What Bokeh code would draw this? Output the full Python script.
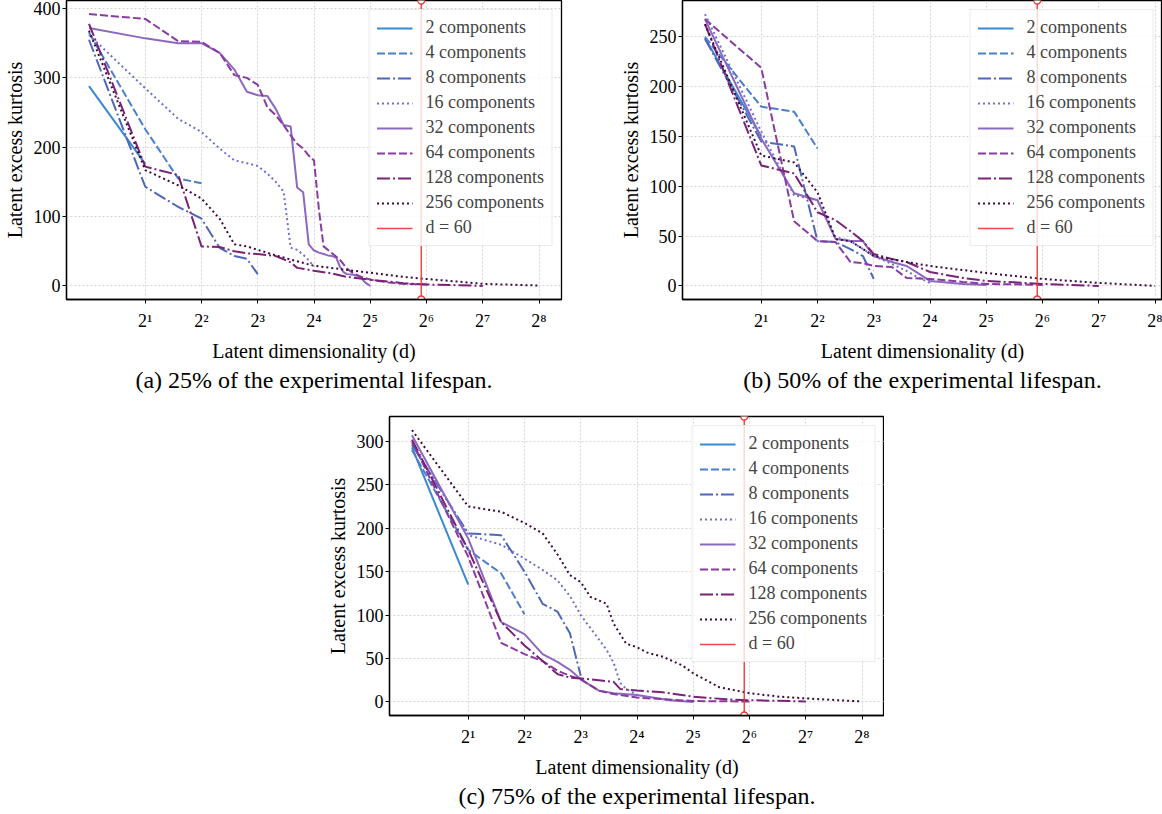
from bokeh.plotting import figure
from bokeh.models import Range1d, FixedTicker, Legend, LegendItem, Title, Spacer
from bokeh.layouts import row, column
from bokeh.embed import file_html
from bokeh.resources import INLINE

# ---------------- data ----------------
components = [2, 4, 8, 16, 32, 64, 128, 256]
series_labels = [f"{n} components" for n in components]
x_ticks = [2, 4, 8, 16, 32, 64, 128, 256]
x_tick_labels = ["2¹", "2²", "2³", "2⁴", "2⁵", "2⁶", "2⁷", "2⁸"]
d_marker = 60

# (a) 25% of lifespan
a2_d = [1, 2]
a2_k = [288, 176]
a4_d = [1, 2, 3, 4]
a4_k = [365, 226, 155, 148]
a8_d = [1, 2, 3, 4, 5, 6, 7, 8]
a8_k = [355, 143, 114, 97, 55, 43, 39, 17]
a16_d = [1, 2, 3, 4, 5, 6, 7, 8, 9, 10, 11, 12, 13, 14, 15, 16]
a16_k = [362, 285, 241, 222, 198, 181, 177, 173, 162, 150, 136, 55, 52, 45, 37, 28]
a32_d = [1, 2, 3, 4, 5, 6, 7, 8, 9, 10, 11, 12, 13, 14, 15, 16, 17, 18, 19, 20, 21, 22, 23, 24, 26, 28, 30, 32]
a32_k = [372, 357, 350, 350, 336, 312, 280, 275, 274, 255, 232, 230, 142, 135, 60, 51, 48, 46, 44, 43, 41, 28, 20, 17, 16, 14, 5, 0]
a64_d = [1, 2, 3, 4, 5, 6, 7, 8, 9, 10, 11, 12, 13, 14, 15, 16, 17, 18, 20, 22, 24, 26, 28, 32, 40, 48, 64]
a64_k = [392, 385, 353, 352, 336, 304, 300, 290, 258, 246, 232, 217, 205, 198, 188, 181, 110, 57, 47, 38, 25, 18, 14, 9, 5, 3, 2]
a128_d = [1, 2, 3, 4, 5, 6, 7, 8, 10, 12, 13, 16, 20, 24, 32, 48, 64, 96, 128]
a128_k = [378, 172, 160, 57, 56, 50, 47, 46, 43, 34, 26, 22, 18, 13, 9, 4, 2, 1, 0]
a256_d = [1, 2, 3, 4, 5, 6, 7, 8, 10, 12, 16, 24, 32, 48, 64, 96, 128, 192, 256]
a256_k = [368, 167, 145, 126, 97, 60, 57, 52, 44, 38, 29, 23, 19, 13, 10, 6, 3, 1.5, 0.5]

# (b) 50% of lifespan
b2_d = [1, 2]
b2_k = [249, 150]
b4_d = [1, 2, 3, 4]
b4_k = [250, 180, 175, 138]
b8_d = [1, 2, 3, 4, 5, 6, 7, 8]
b8_k = [248, 145, 140, 45, 44, 37, 30, 7]
b16_d = [1, 2, 3, 4, 5, 6, 7, 8, 10, 12, 14, 16]
b16_k = [273, 155, 91, 86, 49, 45, 37, 30, 22, 15, 8, 3]
b32_d = [1, 2, 3, 4, 5, 6, 7, 8, 10, 12, 14, 16, 24, 32]
b32_k = [268, 148, 93, 86, 47, 45, 45, 30, 24, 20, 12, 5, 2, 1]
b64_d = [1, 2, 3, 4, 5, 6, 7, 8, 10, 12, 16, 24, 32, 48, 64]
b64_k = [268, 219, 65, 45, 44, 24, 23, 20, 19, 8, 7, 4, 2, 1.5, 1]
b128_d = [1, 2, 3, 4, 5, 6, 7, 8, 10, 12, 16, 24, 32, 64, 128]
b128_k = [263, 121, 113, 74, 66, 55, 45, 32, 27, 24, 14, 8, 5, 2, 0]
b256_d = [1, 2, 3, 4, 5, 6, 7, 8, 12, 16, 32, 64, 128, 256]
b256_k = [263, 131, 124, 94, 47, 45, 37, 30, 24, 20, 13, 7, 3, 0]

# (c) 75% of lifespan
c2_d = [1, 2]
c2_k = [293, 135]
c4_d = [1, 2, 3, 4]
c4_k = [290, 175, 148, 101]
c8_d = [1, 2, 3, 4, 5, 6, 7, 8]
c8_k = [296, 194, 192, 150, 113, 104, 79, 30]
c16_d = [1, 2, 3, 4, 5, 6, 7, 8, 10, 11, 12, 13, 14, 16]
c16_k = [298, 192, 181, 165, 152, 140, 122, 100, 72, 60, 45, 22, 15, 8]
c32_d = [1, 2, 3, 4, 5, 6, 7, 8, 10, 12, 16, 24, 32]
c32_k = [307, 188, 92, 78, 55, 46, 37, 26, 13, 10, 8, 2, 0]
c64_d = [1, 2, 3, 4, 5, 6, 7, 8, 10, 12, 16, 32, 64]
c64_k = [300, 167, 68, 55, 47, 36, 30, 26, 13, 9, 5, 1, 0.5]
c128_d = [1, 2, 3, 4, 5, 6, 7, 8, 10, 12, 13, 16, 22, 32, 48, 64, 128]
c128_k = [302, 175, 92, 65, 47, 32, 28, 27, 25, 23, 15, 13, 11, 6, 3, 2, 0.5]
c256_d = [1, 2, 3, 4, 5, 6, 7, 8, 9, 11, 12, 14, 16, 18, 22, 28, 32, 44, 64, 93, 128, 256]
c256_k = [313, 225, 219, 206, 194, 170, 146, 138, 121, 113, 90, 67, 63, 57, 52, 42, 33, 17, 10, 6, 4, 0.5]

a_yticks = [0, 100, 200, 300, 400]
b_yticks = [0, 50, 100, 150, 200, 250]
c_yticks = [0, 50, 100, 150, 200, 250, 300]

captions = ["(a) 25% of the experimental lifespan.",
            "(b) 50% of the experimental lifespan.",
            "(c) 75% of the experimental lifespan."]

# ---------------- style ----------------
FONT = "Liberation Serif"
colors = ["#3a89d3", "#4b7fcc", "#4f67b9", "#6f70d4", "#8d68c0", "#8a3ba2", "#7a2277", "#3d0b3c"]
dashes = ["solid", "8 3", "13 3 2 3", "2 3", "solid", "8 3", "13 3 2 3", "2 3"]
RED = "#ee3333"
PX_PER_OCT = 56.25


def make_panel(ds, ks, yticks, caption, x_hi, frame_w, bl, br, bt, bb):
    allk = [v for k in ks for v in k]
    lo, hi = min(allk), max(allk)
    pad = 0.05 * (hi - lo)
    y0, y1 = lo - pad, hi + pad
    p = figure(x_axis_type="log", x_range=Range1d(2 ** -0.4, 2 ** x_hi),
               y_range=Range1d(y0, y1), frame_width=frame_w, frame_height=299,
               min_border_left=bl, min_border_right=br, min_border_top=bt,
               min_border_bottom=bb, output_backend="svg", toolbar_location=None,
               title=None, background_fill_color="white", border_fill_color="white")
    p.outline_line_color = "black"
    p.outline_line_width = 1.3
    p.outline_line_alpha = 1.0

    for g in (p.xgrid, p.ygrid):
        g.grid_line_color = "#d4d4d4"
        g.grid_line_dash = "2 2"
        g.grid_line_width = 1

    p.xaxis.ticker = FixedTicker(ticks=x_ticks, minor_ticks=[])
    p.xaxis.major_label_overrides = {t: l for t, l in zip(x_ticks, x_tick_labels)}
    p.yaxis.ticker = FixedTicker(ticks=yticks, minor_ticks=[])
    p.xaxis.axis_label = "Latent dimensionality (d)"
    p.yaxis.axis_label = "Latent excess kurtosis"
    for ax in (p.xaxis, p.yaxis):
        ax.axis_line_color = "black"
        ax.axis_line_width = 1.3
        ax.major_tick_line_color = "black"
        ax.major_tick_out = 4
        ax.major_tick_in = 0
        ax.minor_tick_out = 0
        ax.minor_tick_in = 0
        ax.major_label_text_font = FONT
        ax.major_label_text_font_size = "18px"
        ax.major_label_text_color = "black"
        ax.axis_label_text_font = FONT
        ax.axis_label_text_font_size = "20px"
        ax.axis_label_text_font_style = "normal"
        ax.axis_label_text_color = "black"
    p.yaxis.major_label_standoff = 2
    p.yaxis.axis_label_standoff = 5
    p.xaxis.major_label_standoff = 7
    p.xaxis.axis_label_standoff = 6

    items = []
    for d, k, c, dash, lab in zip(ds, ks, colors, dashes, series_labels):
        r = p.line(d, k, line_color=c, line_width=2, line_dash=dash)
        items.append(LegendItem(label=lab, renderers=[r]))
    rl = p.line([d_marker, d_marker], [y0, y1], line_color=RED, line_width=1.5, line_alpha=0.9)
    p.scatter([d_marker, d_marker], [y0, y1], marker="circle", size=7,
              fill_color="white", line_color=RED, line_width=1.3)
    items.append(LegendItem(label="d = 60", renderers=[rl]))

    leg = Legend(items=items, location="top_right", margin=9,
                 label_text_font=FONT, label_text_font_size="18px",
                 glyph_width=36, glyph_height=20, label_height=20,
                 label_standoff=13, spacing=4, padding=7,
                 border_line_color="#d9d9d9", border_line_width=1,
                 background_fill_color="white", background_fill_alpha=0.8)
    p.add_layout(leg)

    p.add_layout(Title(text=caption, align="center", text_font=FONT,
                       text_font_size="24px", text_font_style="normal",
                       text_color="black", standoff=1), "below")
    return p


pa = make_panel([a2_d, a4_d, a8_d, a16_d, a32_d, a64_d, a128_d, a256_d],
                [a2_k, a4_k, a8_k, a16_k, a32_k, a64_k, a128_k, a256_k],
                a_yticks, captions[0], 8.4, 495, 58, 55, 0, 92)
pb = make_panel([b2_d, b4_d, b8_d, b16_d, b32_d, b64_d, b128_d, b256_d],
                [b2_k, b4_k, b8_k, b16_k, b32_k, b64_k, b128_k, b256_k],
                b_yticks, captions[1], -0.4 + 480 / PX_PER_OCT, 480, 58, 0, 0, 92)
pc = make_panel([c2_d, c4_d, c8_d, c16_d, c32_d, c64_d, c128_d, c256_d],
                [c2_k, c4_k, c8_k, c16_k, c32_k, c64_k, c128_k, c256_k],
                c_yticks, captions[2], 8.4, 495, 58, 0, 23, 85)

layout = column(row(pa, pb), row(Spacer(width=323, height=10), pc))

open("out.html", "w").write(file_html(layout, INLINE))
